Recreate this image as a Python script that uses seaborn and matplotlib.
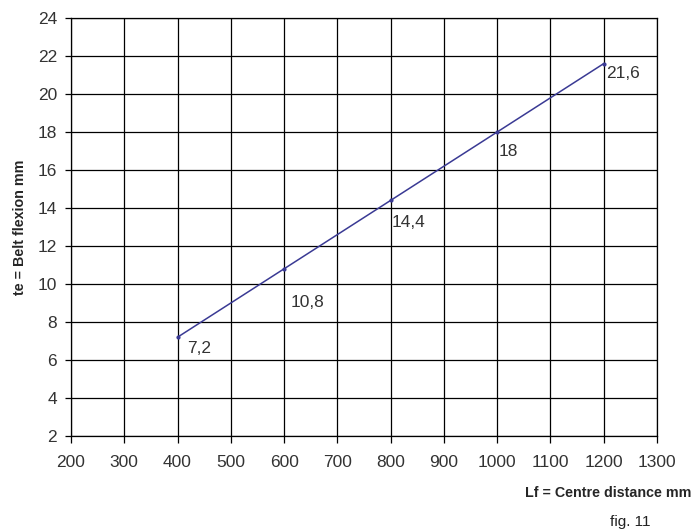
import matplotlib
matplotlib.use("Agg")
import matplotlib.pyplot as plt
import seaborn as sns
import pandas as pd

# data
centre_distance = [400, 600, 800, 1000, 1200]
belt_flexion = [7.2, 10.8, 14.4, 18.0, 21.6]
point_labels = ["7,2", "10,8", "14,4", "18", "21,6"]
x_ticks = [200, 300, 400, 500, 600, 700, 800, 900, 1000, 1100, 1200, 1300]
y_ticks = [2, 4, 6, 8, 10, 12, 14, 16, 18, 20, 22, 24]

sns.set_style("white")
plt.rcParams['font.family'] = ['Liberation Sans', 'DejaVu Sans']

df = pd.DataFrame({"x": centre_distance, "y": belt_flexion})

fig = plt.figure(figsize=(6.92, 5.31), dpi=100)
ax = fig.add_axes([71/692, 1-436/531, (657-71)/692, (436-18)/531])

sns.lineplot(data=df, x="x", y="y", ax=ax, color="#3a3a94", linewidth=1.1,
             marker="o", markersize=3, markeredgewidth=0)

ax.set_xlim(200, 1300)
ax.set_ylim(2, 24)
ax.set_xticks(x_ticks)
ax.set_yticks(y_ticks)
ax.grid(True, color="black", linewidth=0.9)
ax.set_axisbelow(True)
for s in ax.spines.values():
    s.set_visible(True)
    s.set_color("black")
    s.set_linewidth(0.9)
ax.tick_params(axis="both", direction="out", width=0.9, color="black",
               labelsize=12.5, labelcolor="#333333", bottom=True, left=True)
ax.tick_params(axis="x", length=5, pad=8.5)
ax.tick_params(axis="y", length=4, pad=6)
ax.set_xlabel("")
ax.set_ylabel("te = Belt flexion mm", fontsize=10.3, fontweight="bold", labelpad=8)

# label offsets (points): Excel-like placement
label_offsets = [(7, -8), (5, -24), (1, -16), (1, -14), (2, -7)]
for xv, yv, lab, (dx, dy) in zip(centre_distance, belt_flexion, point_labels, label_offsets):
    ax.annotate(lab, (xv, yv), xytext=(dx, dy), textcoords="offset points",
                ha="left", va="center", fontsize=12.5, color="#333333")

fig.text(691/692, 1-493/531, "Lf = Centre distance mm", ha="right", va="center",
         fontsize=10.3, fontweight="bold")
fig.text(630/692, 1-522/531, "fig. 11", ha="center", va="center", fontsize=11,
         color="#222222")

fig.savefig("out.png", dpi=100)
